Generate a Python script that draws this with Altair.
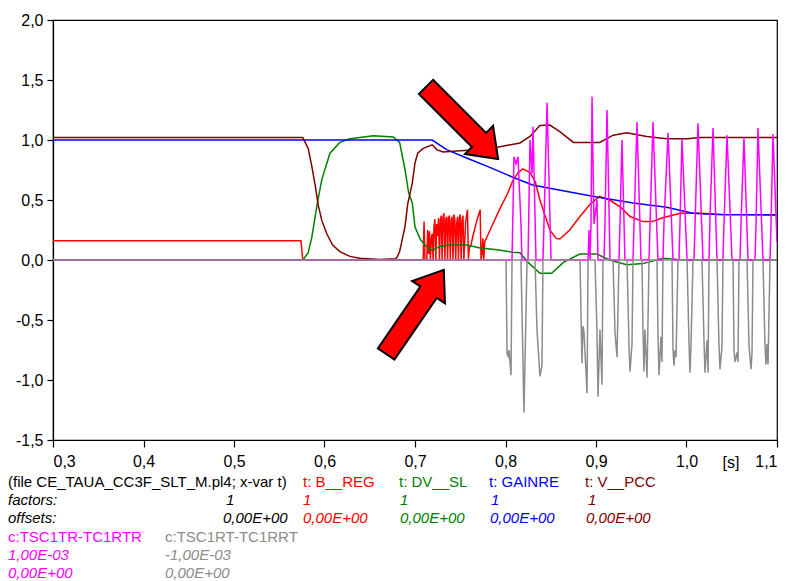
import altair as alt
import pandas as pd

# ------------------------------------------------------------------
# Signals (time in s, value in p.u.)
# ------------------------------------------------------------------
b_reg_t = [0.300, 0.574, 0.576, 0.709, 0.710, 0.711, 0.713, 0.714, 0.715, 0.716,
           0.717, 0.718, 0.719, 0.720, 0.721, 0.722, 0.723, 0.724, 0.725, 0.726,
           0.727, 0.728, 0.729, 0.730, 0.731, 0.732, 0.733, 0.734, 0.735, 0.736,
           0.737, 0.738, 0.739, 0.740, 0.741, 0.742, 0.743, 0.744, 0.745, 0.746,
           0.747, 0.748, 0.749, 0.750, 0.751, 0.752, 0.753, 0.754, 0.756, 0.758,
           0.759, 0.760, 0.762, 0.764, 0.768, 0.772, 0.773, 0.774, 0.775, 0.776,
           0.777, 0.780, 0.786, 0.794, 0.802, 0.808, 0.814, 0.819, 0.827, 0.833,
           0.838, 0.849, 0.856, 0.860, 0.871, 0.882, 0.893, 0.904, 0.915, 0.927,
           0.938, 0.952, 0.962, 0.973, 0.993, 1.015, 1.040, 1.100]
b_reg_v = [0.16, 0.16, 0.00, 0.00, 0.32, 0.00, 0.00, 0.25, 0.05, 0.24,
           0.00, 0.18, 0.22, 0.00, 0.28, 0.34, 0.00, 0.30, 0.20, 0.35,
           0.00, 0.33, 0.37, 0.00, 0.36, 0.39, 0.00, 0.34, 0.36, 0.00,
           0.35, 0.37, 0.00, 0.33, 0.36, 0.00, 0.38, 0.34, 0.00, 0.30,
           0.36, 0.00, 0.35, 0.38, 0.00, 0.33, 0.37, 0.00, 0.32, 0.42,
           0.00, 0.10, 0.13, 0.20, 0.32, 0.42, 0.00, 0.05, 0.18, 0.00,
           0.15, 0.20, 0.30, 0.43, 0.55, 0.66, 0.73, 0.76, 0.73, 0.65,
           0.50, 0.25, 0.18, 0.175, 0.25, 0.36, 0.46, 0.53, 0.50, 0.44,
           0.36, 0.32, 0.32, 0.35, 0.39, 0.39, 0.38, 0.375]

dv_sl_t = [0.300, 0.576, 0.582, 0.586, 0.592, 0.597, 0.606, 0.617, 0.628, 0.654,
           0.676, 0.683, 0.689, 0.693, 0.697, 0.700, 0.706, 0.713, 0.719, 0.728,
           0.739, 0.757, 0.772, 0.791, 0.808, 0.816, 0.825, 0.838, 0.851, 0.864,
           0.882, 0.901, 0.915, 0.934, 0.952, 0.974, 0.996, 1.100]
dv_sl_v = [0.00, 0.00, 0.06, 0.19, 0.47, 0.67, 0.89, 0.98, 1.01, 1.035,
           1.025, 0.98, 0.75, 0.56, 0.475, 0.275, 0.17, 0.11, 0.08, 0.115,
           0.125, 0.125, 0.10, 0.085, 0.065, 0.06, -0.02, -0.11, -0.11, -0.02,
           0.05, 0.05, 0.00, -0.04, -0.03, 0.015, 0.00, 0.00]

gainre_t = [0.300, 0.719, 0.735, 0.757, 0.780, 0.808, 0.830, 0.868, 0.904, 0.941,
            0.978, 1.007, 1.034, 1.100]
gainre_v = [1.00, 1.00, 0.92, 0.85, 0.78, 0.69, 0.625, 0.57, 0.52, 0.475,
            0.44, 0.39, 0.38, 0.375]

v_pcc_t = [0.300, 0.576, 0.582, 0.586, 0.590, 0.593, 0.597, 0.603, 0.609, 0.617,
           0.628, 0.639, 0.661, 0.678, 0.680, 0.683, 0.689, 0.692, 0.697, 0.700,
           0.703, 0.709, 0.719, 0.724, 0.731, 0.750, 0.772, 0.791, 0.816, 0.827,
           0.838, 0.849, 0.860, 0.875, 0.904, 0.919, 0.934, 0.956, 0.978, 1.001,
           1.015, 1.100]
v_pcc_v = [1.02, 1.02, 0.93, 0.78, 0.61, 0.46, 0.33, 0.21, 0.125, 0.07,
           0.03, 0.014, 0.005, 0.01, 0.02, 0.07, 0.28, 0.47, 0.64, 0.81,
           0.89, 0.93, 0.96, 0.92, 0.90, 0.91, 0.92, 0.94, 0.975, 1.03,
           1.12, 1.125, 1.07, 0.98, 0.98, 1.04, 1.06, 1.03, 1.01, 1.01,
           1.02, 1.02]

tsc1tr_t = [0.3000, 0.8072, 0.8094, 0.8116, 0.8138, 0.8171, 0.8182, 0.8249, 0.8271, 0.8293,
            0.8304, 0.8337, 0.8414, 0.8425, 0.8459, 0.8503, 0.8912, 0.8923, 0.8934, 0.8945,
            0.8956, 0.8978, 0.9011, 0.9022, 0.9088, 0.9099, 0.9122, 0.9155, 0.9254, 0.9265,
            0.9287, 0.9320, 0.9409, 0.9420, 0.9453, 0.9497, 0.9586, 0.9597, 0.9630, 0.9674,
            0.9685, 0.9740, 0.9751, 0.9796, 0.9851, 0.9917, 0.9928, 0.9950, 1.0006, 1.0083,
            1.0094, 1.0127, 1.0182, 1.0249, 1.0260, 1.0293, 1.0337, 1.0403, 1.0414, 1.0448,
            1.0503, 1.0591, 1.0602, 1.0635, 1.0680, 1.0757, 1.0768, 1.0790, 1.0845, 1.0923,
            1.0934, 1.0956, 1.1000]
tsc1tr_v = [0.00, 0.00, 0.86, 0.80, 0.86, 0.30, 0.00, 0.00, 1.00, 0.72,
            1.11, 0.00, 0.00, 0.30, 1.31, 0.00, 0.00, 0.25, 0.00, 0.30,
            1.36, 0.30, 0.50, 0.00, 0.00, 0.30, 1.25, 0.00, 0.00, 0.30,
            1.00, 0.00, 0.00, 0.30, 1.15, 0.00, 0.00, 0.30, 1.15, 0.22,
            0.00, 0.00, 0.30, 1.06, 0.00, 0.00, 0.30, 1.01, 0.00, 0.00,
            0.29, 1.14, 0.00, 0.00, 0.36, 1.10, 0.00, 0.00, 0.30, 1.04,
            0.00, 0.00, 0.30, 1.02, 0.00, 0.00, 0.29, 1.10, 0.00, 0.00,
            0.30, 1.05, 0.15]

tsc1rt_t = [0.3000, 0.8006, 0.8017, 0.8028, 0.8039, 0.8061, 0.8072, 0.8171, 0.8204, 0.8238,
            0.8326, 0.8348, 0.8381, 0.8403, 0.8414, 0.8823, 0.8845, 0.8856, 0.8867, 0.8901,
            0.8912, 0.8989, 0.9011, 0.9022, 0.9044, 0.9066, 0.9077, 0.9188, 0.9210, 0.9232,
            0.9254, 0.9343, 0.9365, 0.9376, 0.9398, 0.9409, 0.9508, 0.9519, 0.9530, 0.9541,
            0.9564, 0.9586, 0.9674, 0.9685, 0.9696, 0.9718, 0.9729, 0.9740, 0.9840, 0.9851,
            0.9862, 0.9873, 0.9884, 0.9906, 1.0006, 1.0028, 1.0039, 1.0050, 1.0072, 1.0171,
            1.0193, 1.0204, 1.0227, 1.0238, 1.0249, 1.0337, 1.0359, 1.0370, 1.0392, 1.0403,
            1.0514, 1.0525, 1.0536, 1.0558, 1.0569, 1.0580, 1.0669, 1.0691, 1.0713, 1.0724,
            1.0735, 1.0845, 1.0867, 1.0878, 1.0890, 1.0901, 1.0923, 1.1000]
tsc1rt_v = [0.00, 0.00, -0.78, -0.80, -0.75, -0.96, 0.00, 0.00, -1.27, 0.00,
            0.00, -0.58, -0.97, -0.88, 0.00, 0.00, -0.86, -0.55, -0.60, -1.11,
            0.00, 0.00, -0.60, -1.14, -0.58, -1.04, 0.00, 0.00, -0.60, -0.81,
            0.00, 0.00, -0.72, -0.93, -0.70, 0.00, 0.00, -0.58, -0.93, -0.58,
            -0.98, 0.00, 0.00, -0.62, -0.96, -0.64, -0.85, 0.00, 0.00, -0.75,
            -0.88, -0.75, -0.81, 0.00, 0.00, -0.70, -0.94, -0.70, 0.00, 0.00,
            -0.66, -0.94, -0.67, -0.94, 0.00, 0.00, -0.71, -0.91, -0.72, 0.00,
            0.00, -0.75, -0.85, -0.77, -0.85, 0.00, 0.00, -0.72, -0.91, -0.77,
            0.00, 0.00, -0.70, -0.87, -0.70, -0.87, 0.00, 0.00]

signal_names = ["B__REG", "DV__SL", "GAINRE", "V__PCC", "TSC1TR-TC1RTR", "TSC1RT-TC1RRT"]
signal_times = [b_reg_t, dv_sl_t, gainre_t, v_pcc_t, tsc1tr_t, tsc1rt_t]
signal_values = [b_reg_v, dv_sl_v, gainre_v, v_pcc_v, tsc1tr_v, tsc1rt_v]
signal_colors = ["#ff0000", "#008000", "#0000ff", "#800000", "#ff00ff", "#8c8c8c"]

# Annotation arrows (centre position, heading in degrees, clockwise)
arrow_t = [0.752, 0.700]
arrow_v = [1.142, -0.433]
arrow_angle = [45.0, 304.4]

# Axis ticks
x_ticks = [0.3, 0.4, 0.5, 0.6, 0.7, 0.8, 0.9, 1.0, 1.1]
y_ticks = [-1.5, -1.0, -0.5, 0.0, 0.5, 1.0, 1.5, 2.0]

# Caption block underneath the plot
caption_text = [
    "(file CE_TAUA_CC3F_SLT_M.pl4; x-var t)", "t: B__REG", "t: DV__SL", "t: GAINRE", "t: V__PCC",
    "factors:", "1", "1", "1", "1", "1",
    "offsets:", "0,00E+00", "0,00E+00", "0,00E+00", "0,00E+00", "0,00E+00",
    "c:TSC1TR-TC1RTR", "c:TSC1RT-TC1RRT",
    "1,00E-03", "-1,00E-03",
    "0,00E+00", "0,00E+00",
]
caption_color = [
    "#000000", "#ff0000", "#008000", "#0000ff", "#800000",
    "#000000", "#000000", "#ff0000", "#008000", "#0000ff", "#800000",
    "#000000", "#000000", "#ff0000", "#008000", "#0000ff", "#800000",
    "#ff00ff", "#8c8c8c",
    "#ff00ff", "#8c8c8c",
    "#ff00ff", "#8c8c8c",
]
caption_style = [
    "normal", "normal", "normal", "normal", "normal",
    "italic", "italic", "italic", "italic", "italic", "italic",
    "italic", "italic", "italic", "italic", "italic", "italic",
    "normal", "normal",
    "italic", "italic",
    "italic", "italic",
]
# layout of the caption block (pixels from the plot's top-left corner)
caption_x = [-45, 250, 346, 436, 532,
             -45, 173, 250, 347, 438, 535,
             -45, 170, 250, 347, 437, 533,
             -45, 112,
             -45, 112,
             -45, 112]
caption_y = [467, 467, 467, 467, 467,
             485, 485, 485, 485, 485, 485,
             503, 503, 503, 503, 503, 503,
             522, 522,
             540, 540,
             558, 558]

FONT = "Liberation Sans"

x_scale = alt.Scale(domain=[0.3, 1.1], nice=False, zero=False)
y_scale = alt.Scale(domain=[-1.5, 2.0], nice=False, zero=False)

x_axis = alt.Axis(values=x_ticks, title=None, grid=False, tickSize=7, labelPadding=6,
                  labelExpr="replace(format(datum.value, '.1f'), '.', ',')")
y_axis = alt.Axis(values=y_ticks, title=None, grid=False, tickSize=6, labelPadding=4,
                  labelExpr="(datum.value < 0 ? '-' : '') + replace(format(abs(datum.value), '.1f'), '.', ',')")

enc_x = alt.X("t:Q", scale=x_scale, axis=x_axis)
enc_y = alt.Y("v:Q", scale=y_scale, axis=y_axis)

layers = []
for name, ts, vs, col in zip(signal_names, signal_times, signal_values, signal_colors):
    df = pd.DataFrame({"t": ts, "v": vs, "signal": name})
    layers.append(
        alt.Chart(df).mark_line(color=col, strokeWidth=1.5, clip=True).encode(
            x=enc_x, y=enc_y, order="t:Q"
        )
    )

arrow_df = pd.DataFrame({"t": arrow_t, "v": arrow_v, "ang": arrow_angle})
arrow_path = "M -1 -0.196 L 0.47 -0.196 L 0.47 -0.39 L 1 0 L 0.47 0.39 L 0.47 0.196 L -1 0.196 Z"
arrows = alt.Chart(arrow_df).mark_point(
    shape=arrow_path, filled=True, fill="#ff0000", stroke="#000000",
    strokeWidth=2, size=10404, opacity=1, strokeJoin="miter"
).encode(
    x=enc_x,
    y=enc_y,
    angle=alt.Angle("ang:Q", scale=None),
)

# caption texts, one small text layer each, placed in pixels
cap_df = pd.DataFrame({"text": caption_text, "color": caption_color,
                       "style": caption_style, "px": caption_x, "py": caption_y})
caption_layers = []
for _, row in cap_df.iterrows():
    caption_layers.append(
        alt.Chart(pd.DataFrame({"text": [row["text"]]})).mark_text(
            align="left", baseline="alphabetic", font=FONT, fontSize=15,
            fontStyle=row["style"], color=row["color"]
        ).encode(x=alt.value(int(row["px"])), y=alt.value(int(row["py"])), text="text:N")
    )

unit_label = alt.Chart(pd.DataFrame({"u": ["[s]"]})).mark_text(
    align="center", baseline="alphabetic", font=FONT, fontSize=16, color="#000000"
).encode(x=alt.value(678), y=alt.value(448), text="u:N")

chart = alt.layer(*layers, arrows, *caption_layers, unit_label).properties(
    width=724,
    height=420,
    autosize=alt.AutoSizeParams(type="none"),
    padding={"left": 53, "top": 20, "right": 12, "bottom": 141},
    background="#ffffff",
).configure_view(
    stroke="#000000", strokeWidth=1.2
).configure_axis(
    labelFont=FONT, labelFontSize=16, labelColor="#000000",
    domainColor="#000000", tickColor="#000000", domainWidth=1.2, tickWidth=1.2,
)

chart.save("out.html", embed_options={"renderer": "svg", "actions": False})
